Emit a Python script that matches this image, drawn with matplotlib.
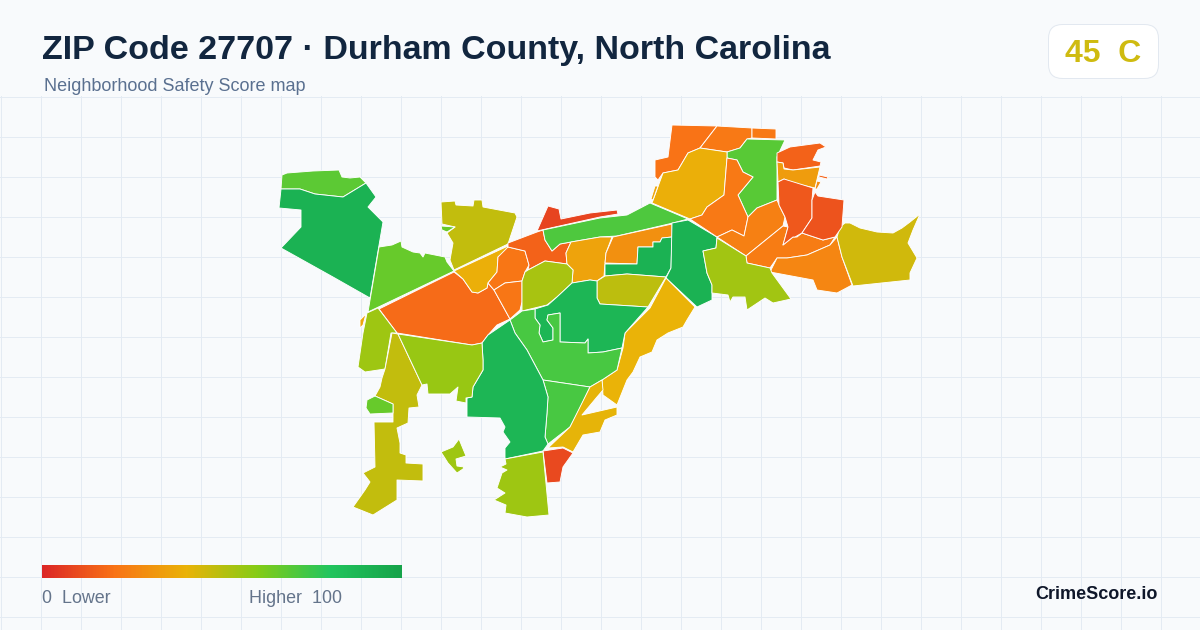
import numpy as np
import matplotlib
matplotlib.use("Agg")
import matplotlib.pyplot as plt
from matplotlib.colors import LinearSegmentedColormap
from matplotlib.patches import FancyBboxPatch, Polygon

title = "ZIP Code 27707 · Durham County, North Carolina"
subtitle = "Neighborhood Safety Score map"
badge = "45  C"
brand = "CrimeScore.io"

# colour scale of the score
score_stops = [0, 20, 40, 60, 80, 100]
score_colors = ["#dc2626", "#f97316", "#eab308", "#84cc16", "#22c55e", "#16a34a"]

# neighborhood outlines, with their scores
outlines = [
    [(281,189),(282,175),(287,173),(313,171),(339,170),(342,177),(350,178),(360,177),(366,183),(343,197),(315,194),(300,189)],
    [(281,189),(300,189),(315,194),(343,197),(366,183),(376,197),(368,207),(383,222),(370,298),(333,277),(281,248),(301,227),(301,210),(279,208)],
    [(379,247),(392,245),(401,241),(402,247),(413,252),(420,253),(423,257),(425,253),(445,257),(447,262),(454,271),(368,312)],
    [(441,202),(455,201),(456,205),(473,206),(474,200),(482,200),(483,207),(515,213),(517,217),(508,244),(454,270),(450,260),(453,243),(447,233),(455,227),(442,224)],
    [(441,226),(455,227),(447,232),(442,230)],
    [(379,309),(454,272),(463,279),(472,292),(478,293),(487,288),(488,283),(494,290),(510,319),(497,325),(488,335),(482,343),(472,345),(397,333)],
    [(454,271),(508,246),(507,250),(498,257),(497,272),(488,283),(487,288),(478,293),(472,292),(463,279)],
    [(508,247),(525,251),(529,265),(525,272),(522,281),(505,283),(494,290),(488,283),(497,272),(498,257)],
    [(494,290),(505,283),(522,281),(522,302),(520,310),(510,319)],
    [(508,243),(537,232),(543,230),(545,240),(552,251),(560,244),(571,242),(566,253),(567,264),(545,261),(528,270),(529,265),(525,251),(508,247)],
    [(537,231),(548,206),(559,209),(561,219),(590,213),(617,210),(618,214),(600,217)],
    [(543,230),(600,218),(627,215),(650,203),(688,219),(673,223),(617,236),(600,237),(571,242),(560,244),(552,251),(545,240)],
    [(571,242),(600,237),(612,237),(606,253),(605,264),(604,276),(597,281),(590,280),(572,283),(573,270),(567,264),(566,253)],
    [(613,237),(672,224),(672,237),(662,238),(660,242),(653,242),(653,247),(638,247),(637,264),(605,263),(606,253)],
    [(637,264),(638,247),(653,247),(653,242),(660,242),(662,238),(672,237),(671,268),(666,277),(627,274),(605,276),(605,264)],
    [(672,223),(688,220),(717,237),(716,248),(703,251),(707,273),(712,285),(712,300),(697,307),(666,278),(671,268)],
    [(605,276),(627,274),(666,277),(648,307),(600,304),(597,298),(597,281)],
    [(666,278),(680,292),(695,307),(687,320),(683,327),(668,333),(657,340),(652,352),(640,357),(633,372),(627,380),(617,405),(603,395),(602,380),(617,370),(623,348),(625,333),(650,308)],
    [(528,270),(545,261),(567,264),(573,270),(572,283),(557,297),(547,305),(522,311),(522,302),(522,281),(525,272)],
    [(535,309),(548,305),(557,297),(572,283),(590,280),(597,281),(597,298),(600,304),(648,307),(625,333),(622,348),(603,352),(588,353),(588,339),(585,343),(560,342),(560,313),(548,315),(547,320),(553,328),(553,340),(543,342),(539,333),(540,325),(535,318)],
    [(510,320),(522,311),(535,309),(535,318),(540,325),(539,333),(543,342),(553,340),(553,328),(547,320),(548,315),(560,313),(560,342),(585,343),(588,339),(588,353),(603,352),(622,348),(617,370),(602,380),(590,387),(543,380),(527,350),(515,333)],
    [(543,380),(590,387),(580,408),(570,427),(548,444),(545,437),(547,413),(548,397)],
    [(510,320),(515,333),(527,350),(543,380),(548,397),(547,413),(545,437),(548,444),(543,451),(505,459),(505,448),(510,442),(503,432),(505,427),(500,418),(467,417),(467,398),(472,397),(473,387),(483,370),(483,360),(482,343),(488,335)],
    [(548,448),(570,427),(590,387),(602,380),(603,390),(597,397),(582,415),(617,407),(617,415),(605,420),(600,432),(583,435),(573,452),(563,447)],
    [(543,451),(563,448),(573,453),(563,467),(560,482),(547,483)],
    [(505,459),(543,452),(549,515),(527,517),(505,513),(506,505),(494,500),(505,493),(497,488),(502,473),(507,470),(500,467),(506,464)],
    [(459,439),(466,456),(456,459),(457,466),(464,467),(463,469),(457,473),(448,463),(441,452),(453,447)],
    [(367,313),(378,308),(397,333),(391,333),(385,369),(365,372),(358,367),(363,333)],
    [(392,333),(398,334),(422,385),(417,395),(419,407),(409,408),(408,423),(397,428),(400,443),(400,453),(406,455),(406,463),(423,464),(423,481),(397,480),(397,500),(373,515),(353,507),(365,490),(370,482),(363,473),(375,467),(374,422),(393,422),(393,404),(375,396),(380,387),(382,378),(385,369)],
    [(375,396),(393,404),(393,413),(370,414),(366,408),(367,400)],
    [(398,334),(472,345),(482,343),(483,360),(483,370),(473,387),(472,397),(466,398),(466,403),(456,401),(458,387),(450,394),(428,394),(427,384),(422,385)],
    [(360,328),(360,320),(366,314),(363,325)],
    [(672,125),(717,126),(700,148),(688,153),(678,170),(663,173),(658,180),(655,177),(655,160),(668,157)],
    [(717,126),(752,128),(752,138),(747,139),(740,148),(727,152),(700,148)],
    [(752,128),(776,129),(776,139),(752,138)],
    [(747,139),(785,140),(777,157),(777,200),(757,208),(748,217),(738,195),(753,177),(743,172),(737,160),(727,158),(727,152),(740,148)],
    [(688,153),(700,148),(727,152),(727,158),(724,195),(707,207),(702,215),(690,219),(652,203),(663,173),(668,172),(678,170)],
    [(655,186),(658,186),(653,200),(651,199)],
    [(727,158),(737,160),(743,172),(753,177),(738,195),(748,217),(744,236),(732,230),(717,237),(690,219),(702,215),(707,207),(724,195)],
    [(748,217),(757,208),(777,200),(780,207),(785,217),(783,226),(746,256),(717,237),(732,230),(744,236)],
    [(783,226),(788,227),(783,245),(793,237),(797,237),(802,233),(823,240),(835,237),(830,245),(807,255),(787,258),(777,258),(770,268),(747,263),(746,256)],
    [(777,258),(787,258),(807,255),(830,245),(837,237),(842,257),(852,285),(837,293),(817,290),(813,280),(770,272)],
    [(717,238),(746,256),(747,263),(770,268),(772,273),(791,299),(773,303),(765,298),(747,310),(745,297),(733,297),(730,302),(728,295),(712,293),(712,285),(707,273),(703,251),(716,248)],
    [(837,237),(840,227),(845,223),(850,223),(860,228),(877,232),(893,233),(902,228),(910,222),(920,214),(913,230),(908,243),(917,258),(910,273),(910,280),(853,286),(842,257)],
    [(777,153),(790,147),(820,143),(826,147),(818,150),(813,160),(821,162),(820,166),(793,170),(784,168),(783,163),(777,162)],
    [(777,162),(783,163),(784,169),(793,170),(820,167),(815,188),(793,183),(784,179),(778,182)],
    [(778,182),(784,179),(813,188),(812,200),(812,218),(802,233),(795,237),(793,237),(783,245),(788,227),(785,217),(779,205)],
    [(815,192),(818,196),(844,200),(842,227),(835,237),(823,240),(802,233),(812,218),(812,200)],
    [(819,175),(828,177),(827,179),(819,177)],
    [(817,181),(821,182),(817,189),(815,189)],
]
scores = [68, 91, 66, 48, 66, 18, 39, 21, 21, 16, 8, 71, 35, 29, 91, 91, 49, 40, 53, 89,
          72, 72, 89, 41, 9, 55, 55, 55, 48, 66, 56, 36, 20, 22, 22, 69, 39, 36, 22, 24,
          23, 26, 54, 45, 16, 33, 13, 12, 16, 28]

cmap = LinearSegmentedColormap.from_list(
    "score", [(s / 100, c) for s, c in zip(score_stops, score_colors)])

plt.rcParams["font.family"] = ["Liberation Sans", "DejaVu Sans"]

fig = plt.figure(figsize=(12, 6.3), dpi=100, facecolor="#f8fafc")
ax = fig.add_axes([0, 0, 1, 1])
ax.set_axis_off()

# background grid, the header stays clean
for x in range(0, 1200, 40):
    ax.plot([x + 0.5, x + 0.5], [96, 630], color="#e4ebf3", lw=0.72, zorder=1)
for y in range(97, 630, 40):
    ax.plot([0, 1200], [y - 0.5, y - 0.5], color="#e4ebf3", lw=0.72, zorder=1)

# map
for outline, score in zip(outlines, scores):
    ax.add_patch(Polygon(outline, closed=True, facecolor=cmap(score / 100),
                         edgecolor="white", lw=0.65, joinstyle="round", zorder=2))

# legend bar
gradient = np.linspace(0, 1, 360).reshape(1, -1)
ax.imshow(gradient, cmap=cmap, aspect="auto", extent=(42, 402, 578, 565), zorder=3)
ax.text(42, 603, "0  Lower", fontsize=12.9, color="#64748b", zorder=4)
ax.text(249, 603, "Higher  100", fontsize=12.9, color="#64748b", zorder=4)

# header
ax.text(42, 59, title, fontsize=24.5, fontweight="bold", color="#12263f", zorder=4)
ax.text(44, 91, subtitle, fontsize=12.95, color="#5a7090", zorder=4)

# score badge
ax.add_patch(FancyBboxPatch((1048.5, 24.5), 110, 54, boxstyle="round,pad=0,rounding_size=14",
                            facecolor="white", edgecolor="#e2e8f0", lw=0.72, zorder=3))
ax.text(1065, 62, badge, fontsize=23, fontweight="bold", color="#cfbb10", zorder=4)

ax.text(1158, 599, brand, fontsize=13, fontweight="bold", color="#0f172a", ha="right", zorder=4)

ax.set_xlim(0, 1200)
ax.set_ylim(630, 0)
fig.savefig("out.png", dpi=100, facecolor=fig.get_facecolor())
